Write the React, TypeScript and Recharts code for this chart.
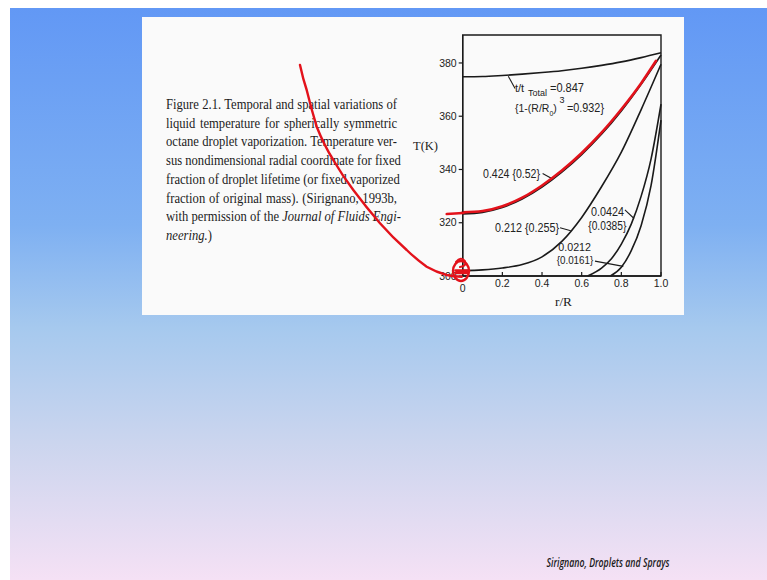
import React from 'react'
import { LineChart, Line, XAxis, YAxis, ReferenceArea, ReferenceLine } from 'recharts'

// T(K) vs r/R for fixed fractions of droplet lifetime
const curve0847 = [
  { r: 0, T: 374.8 }, { r: 0.1, T: 374.9 }, { r: 0.2, T: 375.3 }, { r: 0.3, T: 375.8 },
  { r: 0.4, T: 376.4 }, { r: 0.5, T: 377.1 }, { r: 0.6, T: 378.0 }, { r: 0.7, T: 379.1 },
  { r: 0.8, T: 380.4 }, { r: 0.9, T: 382.0 }, { r: 1.0, T: 383.8 },
]
const curve0424 = [
  { r: 0, T: 323.3 }, { r: 0.1, T: 323.9 }, { r: 0.2, T: 325.7 }, { r: 0.3, T: 328.9 },
  { r: 0.4, T: 333.4 }, { r: 0.5, T: 339.0 }, { r: 0.6, T: 345.6 }, { r: 0.7, T: 353.2 },
  { r: 0.8, T: 362.0 }, { r: 0.9, T: 372.0 }, { r: 1.0, T: 383.0 },
]
const curve0212 = [
  { r: 0, T: 302.0 }, { r: 0.1, T: 302.3 }, { r: 0.2, T: 303.0 }, { r: 0.3, T: 304.3 },
  { r: 0.4, T: 307.2 }, { r: 0.5, T: 313.0 }, { r: 0.6, T: 322.0 }, { r: 0.7, T: 333.5 },
  { r: 0.8, T: 346.5 }, { r: 0.9, T: 362.5 }, { r: 1.0, T: 379.5 },
]
const curve00424 = [
  { r: 0.63, T: 300.0 }, { r: 0.7, T: 303.0 }, { r: 0.75, T: 306.5 }, { r: 0.8, T: 312.0 },
  { r: 0.85, T: 319.5 }, { r: 0.9, T: 330.0 }, { r: 0.95, T: 344.0 }, { r: 1.0, T: 364.5 },
]
const curve00212 = [
  { r: 0.745, T: 300.0 }, { r: 0.8, T: 303.3 }, { r: 0.85, T: 309.5 }, { r: 0.9, T: 319.0 },
  { r: 0.95, T: 334.0 }, { r: 1.0, T: 358.5 },
]
// red pen stroke traced over the 0.424 curve
const redInk = [
  { r: 0, T: 323.9 }, { r: 0.1, T: 324.4 }, { r: 0.2, T: 326.2 }, { r: 0.3, T: 329.4 },
  { r: 0.4, T: 334.0 }, { r: 0.5, T: 339.6 }, { r: 0.6, T: 346.2 }, { r: 0.7, T: 353.8 },
  { r: 0.8, T: 362.6 }, { r: 0.9, T: 372.4 }, { r: 0.975, T: 380.8 },
]

const xTicks = [0, 0.2, 0.4, 0.6, 0.8, 1.0]
const yTicks = [300, 320, 340, 360, 380]

const leaders = [
  [{ x: 0.23, y: 375.0 }, { x: 0.264, y: 370.4 }],
  [{ x: 0.403, y: 338.5 }, { x: 0.449, y: 336.6 }],
  [{ x: 0.491, y: 318.1 }, { x: 0.545, y: 317.0 }],
  [{ x: 0.818, y: 324.8 }, { x: 0.864, y: 321.6 }],
  [{ x: 0.667, y: 305.6 }, { x: 0.81, y: 303.6 }],
]

const paragraph = [
  'Figure 2.1. Temporal and spatial variations of',
  'liquid temperature for spherically symmetric',
  'octane droplet vaporization. Temperature ver-',
  'sus nondimensional radial coordinate for fixed',
  'fraction of droplet lifetime (or fixed vaporized',
  'fraction of original mass). (Sirignano, 1993b,',
]

const INK = '#1a1a1a'
const RED = '#e3121b'
const tickFont = "'Liberation Sans', Arial, sans-serif"
const serif = "'Liberation Serif', 'Times New Roman', serif"

function XTick(props: any) {
  const { x, y, payload } = props
  const v = payload.value
  const label = v === 0 ? '0' : v.toFixed(1)
  return (
    <g>
      <line x1={x} y1={y} x2={x} y2={y - 4} stroke={INK} strokeWidth={1.2} />
      <text x={x} y={y + (v === 0 ? 16 : 11)} textAnchor="middle" fontSize={10.5} fontFamily={tickFont} fill="#222">
        {label}
      </text>
    </g>
  )
}

export default function App() {
  return (
    <div style={{ position: 'absolute', left: 0, top: 0, width: 767, height: 580, overflow: 'hidden', background: '#fff' }}>
      <div
        style={{
          position: 'absolute', left: 10, top: 8, width: 757, height: 572,
          background: 'linear-gradient(to bottom, #6298f5 0%, #7eb0f2 38%, #a6c9ee 56%, #cbd5ee 76%, #f5e1f5 100%)',
        }}
      />
      <div style={{ position: 'absolute', left: 142, top: 17, width: 542, height: 298, background: '#fafafa' }} />

      <div
        style={{
          position: 'absolute', left: 166, top: 96, width: 256.7, transform: 'scaleX(0.9)', transformOrigin: 'left top',
          fontFamily: serif, fontSize: 14, lineHeight: '18.7px', color: '#1c1c1c',
        }}
      >
        {paragraph.map((line, i) => (
          <div key={i} style={{ textAlign: 'justify', textAlignLast: 'justify', whiteSpace: 'nowrap' }}>{line}</div>
        ))}
        <div style={{ textAlign: 'justify', textAlignLast: 'justify', whiteSpace: 'nowrap' }}>
          with permission of the <i>Journal of Fluids Engi-</i>
        </div>
        <div><i>neering.</i>)</div>
      </div>

      <div style={{ position: 'absolute', left: 0, top: 0 }}>
        <LineChart width={767} height={580} margin={{ top: 35, right: 106, bottom: 303, left: 461.7 }}>
          <XAxis
            type="number" dataKey="r" domain={[0, 1]} ticks={xTicks} height={1}
            tickSize={0} tickMargin={0} tickLine={false} tick={<XTick />}
            axisLine={{ stroke: INK, strokeWidth: 1.4 }}
          />
          <YAxis
            type="number" dataKey="T" domain={[300, 390.5]} ticks={yTicks} width={1}
            tickSize={4} tickMargin={2} tickLine={{ stroke: INK, strokeWidth: 1.2 }}
            tick={{ fill: '#222', fontSize: 10.5, fontFamily: tickFont }}
            axisLine={{ stroke: INK, strokeWidth: 1.4 }}
          />
          <ReferenceArea x1={0} x2={1} y1={300} y2={390.5} fill="none" fillOpacity={0} stroke={INK} strokeWidth={1.4} ifOverflow="visible" />
          {leaders.map((seg, i) => (
            <ReferenceLine key={i} segment={seg} stroke={INK} strokeWidth={1.1} ifOverflow="visible" />
          ))}
          <Line data={curve0847} dataKey="T" type="monotone" stroke={INK} strokeWidth={1.6} dot={false} isAnimationActive={false} />
          <Line data={curve0424} dataKey="T" type="monotone" stroke={INK} strokeWidth={1.6} dot={false} isAnimationActive={false} />
          <Line data={curve0212} dataKey="T" type="monotone" stroke={INK} strokeWidth={1.6} dot={false} isAnimationActive={false} />
          <Line data={curve00424} dataKey="T" type="monotone" stroke={INK} strokeWidth={1.6} dot={false} isAnimationActive={false} />
          <Line data={curve00212} dataKey="T" type="monotone" stroke={INK} strokeWidth={1.6} dot={false} isAnimationActive={false} />
          <Line data={redInk} dataKey="T" type="monotone" stroke={RED} strokeWidth={2.6} strokeLinecap="round" dot={false} isAnimationActive={false} />
        </LineChart>
      </div>

      <svg width={767} height={580} style={{ position: 'absolute', left: 0, top: 0, pointerEvents: 'none' }}>
        <g fontFamily={tickFont} fill="#222" fontSize={12}>
          <text x={515} y={92} fontSize={11}>t/t</text>
          <text x={528} y={95.5} fontSize={9}>Total</text>
          <text x={550} y={91.5} textLength={34} lengthAdjust="spacingAndGlyphs">=0.847</text>
          <text x={515} y={112} fontSize={10.5}>
            {'{1-(R/R'}
            <tspan dy={4} fontSize={7}>0</tspan>
            <tspan dy={-4}>)</tspan>
          </text>
          <text x={559.5} y={102.5} fontSize={9}>3</text>
          <text x={567} y={112} textLength={37} lengthAdjust="spacingAndGlyphs">{'=0.932}'}</text>
          <text x={483} y={178} textLength={57} lengthAdjust="spacingAndGlyphs">{'0.424 {0.52}'}</text>
          <text x={495} y={231.5} textLength={64} lengthAdjust="spacingAndGlyphs">{'0.212 {0.255}'}</text>
          <text x={591} y={215.5} textLength={33} lengthAdjust="spacingAndGlyphs">0.0424</text>
          <text x={588.3} y={230} textLength={38} lengthAdjust="spacingAndGlyphs">{'{0.0385}'}</text>
          <text x={558.3} y={250.8} fontSize={11} textLength={32.7} lengthAdjust="spacingAndGlyphs">0.0212</text>
          <text x={556.7} y={263.8} fontSize={11} textLength={36.6} lengthAdjust="spacingAndGlyphs">{'{0.0161}'}</text>
        </g>
        <g fontFamily={serif} fill="#1c1c1c" fontSize={13}>
          <text x={413} y={150} textLength={25} lengthAdjust="spacingAndGlyphs">T(K)</text>
          <text x={555} y={306} textLength={17} lengthAdjust="spacingAndGlyphs">r/R</text>
        </g>
        <text
          x={546.5} y={567} fontFamily="'Open Sans', 'Liberation Sans', sans-serif" fontStyle="italic" fontWeight={600}
          fontSize={12} fill="#1a1a1a" textLength={123} lengthAdjust="spacingAndGlyphs"
        >
          Sirignano, Droplets and Sprays
        </text>

        {/* hand-drawn pen marks */}
        <g fill="none" stroke={RED} strokeWidth={2.4} strokeLinecap="round" strokeLinejoin="round">
          <path d="M300,65 Q303,79 306.7,90 Q311,108 316.7,126.7 Q324,145 333.3,160 Q342,175 353.3,190 Q366,207 380,223.3 Q393,238 406.7,250 Q416,259 426.7,266.7 Q436,272 446.7,275 Q454,276.5 461.7,276.7" />
          <path d="M446.7,214 L463,213" strokeWidth={2.6} />
          <ellipse cx={461} cy={271} rx={8} ry={10} />
          <path d="M456,262 Q461,256 465,261 Q467,266 460,267" strokeWidth={2} />
          <path d="M455.5,270.5 L469,270.5 M456,273 L468,273" strokeWidth={2.6} />
        </g>
      </svg>
    </div>
  )
}
